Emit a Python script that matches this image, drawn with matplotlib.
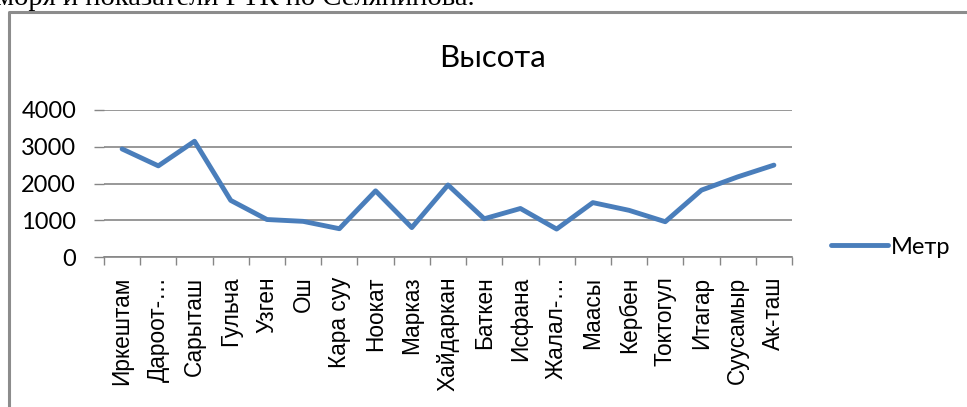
import matplotlib
matplotlib.use("Agg")
import matplotlib.pyplot as plt
from matplotlib.lines import Line2D

categories = ["Иркештам", "Дароот-…", "Сарыташ", "Гульча", "Узген", "Ош",
              "Кара суу", "Ноокат", "Марказ", "Хайдаркан", "Баткен", "Исфана",
              "Жалал-…", "Маасы", "Кербен", "Токтогул", "Итагар", "Суусамыр",
              "Ак-таш"]
metr = [2940, 2480, 3150, 1540, 1020, 970, 770, 1800, 800, 1960, 1040, 1320,
        760, 1480, 1270, 960, 1820, 2180, 2500]
y_ticks = [0, 1000, 2000, 3000, 4000]
title = "Высота"
series_name = "Метр"
header = "моря и показатели ГТК по Селянинова."

W, H = 967, 407
fig = plt.figure(figsize=(W / 100, H / 100), dpi=100)

def fx(px):
    return px / W

def fy(py):
    return 1 - py / H

# document text clipped at top
fig.text(fx(-4), fy(5), header, family="Liberation Serif", fontsize=20.5,
         ha="left", va="baseline", color="black")

# chart frame
fig.add_artist(Line2D([fx(9), fx(9), fx(W + 5)], [fy(H + 5), fy(12), fy(12)],
                      color="#8c8c8c", lw=2.2, transform=fig.transFigure))

ax = fig.add_axes([fx(104), fy(257), fx(792) - fx(104), fy(110) - fy(257)])
x = list(range(len(categories)))
line, = ax.plot(x, metr, color="#4a7ebb", lw=3.5, solid_joinstyle="round",
                solid_capstyle="round", label=series_name)
ax.set_xlim(-0.5, len(categories) - 0.5)
ax.set_ylim(0, 4000)
ax.set_yticks(y_ticks)
ax.set_yticklabels([str(v) for v in y_ticks], family="Lato", fontsize=17)
ax.set_xticks(x)
ax.set_xticklabels(categories, rotation=90, family="Liberation Sans",
                   fontsize=16.3)
ax.set_xticks([i - 0.5 for i in range(len(categories) + 1)], minor=True)
ax.tick_params(axis="x", which="major", length=0, pad=14)
ax.tick_params(axis="x", which="minor", length=6, color="#868686", width=1)
ax.tick_params(axis="y", length=7, color="#868686", width=1, pad=13)
for s in ["top", "right", "left"]:
    ax.spines[s].set_visible(False)
ax.spines["bottom"].set_color("#868686")
ax.spines["bottom"].set_linewidth(1.2)
ax.grid(axis="y", color="#868686", lw=1.2)
ax.set_axisbelow(True)

fig.text(fx(492), fy(67), title, family="Lato", fontsize=22.5,
         ha="center", va="baseline")

fig.legend(handles=[line], labels=[series_name], loc="center left",
           bbox_to_anchor=(fx(831), fy(247)), frameon=False,
           prop={"family": "Lato", "size": 17}, handlelength=2.4,
           handletextpad=0.15, borderpad=0, borderaxespad=0)

fig.savefig("out.png", dpi=100)
